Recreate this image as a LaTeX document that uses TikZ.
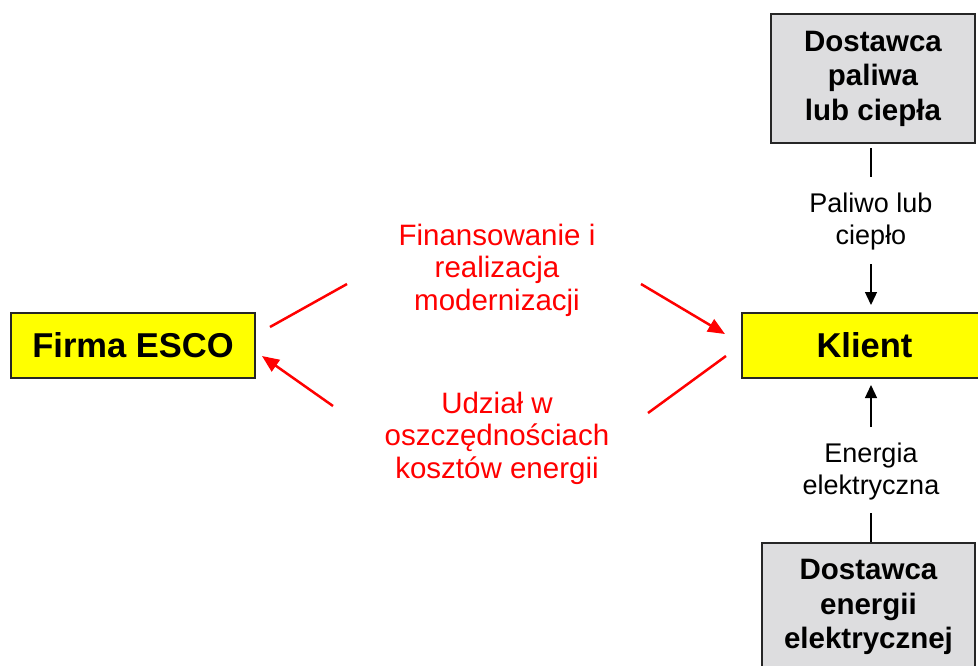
\documentclass[tikz,border=0pt]{standalone}
\usepackage{fontspec}
\setmainfont{Liberation Sans}
\usetikzlibrary{arrows.meta}
\definecolor{boxyellow}{RGB}{255,255,0}
\definecolor{boxgrey}{RGB}{221,221,223}
\tikzset{
  mainbox/.style={draw=black!85, line width=1.5pt, fill=boxyellow, minimum width=244pt, minimum height=65pt, inner sep=0pt, font=\fontsize{34.5}{40}\selectfont\bfseries},
  supbox/.style={draw=black!85, line width=1.5pt, fill=boxgrey, inner sep=0pt, align=center, font=\fontsize{29.5}{34.5}\selectfont\bfseries},
  redlabel/.style={text=red, align=center, inner sep=0pt, font=\fontsize{29.5}{32.5}\selectfont},
  blacklabel/.style={align=center, inner sep=0pt, font=\fontsize{27}{32}\selectfont},
  redline/.style={draw=red, line width=2.5pt},
  redarrow/.style={redline, -{Triangle[length=17pt,width=14pt]}},
  blackline/.style={draw=black, line width=1.3pt},
  blackarrow/.style={blackline, -{Triangle[length=13pt,width=12pt]}}
}
\begin{document}
\begin{tikzpicture}[x=1pt,y=-1pt]
\useasboundingbox (0,0) rectangle (978,665);
\clip (0,0) rectangle (978,665);
% boxes
\node[mainbox] (esco) at (133,345.5) {Firma ESCO};
\node[mainbox, minimum width=245pt] (klient) at (864.5,345.5) {Klient};
\node[supbox, minimum width=204pt, minimum height=129pt] (paliwo) at (873,78.5) {Dostawca\\paliwa\\lub ciepła};
\node[supbox, minimum width=213pt, minimum height=128pt] (energia) at (868.5,607) {Dostawca\\energii\\elektrycznej};
% labels
\node[redlabel] (fin) at (497,270) {Finansowanie i\\realizacja\\modernizacji};
\node[redlabel] (udz) at (497,438) {Udział w\\oszczędnościach\\kosztów energii};
\node[blacklabel] (lpal) at (871,222) {Paliwo lub\\ciepło};
\node[blacklabel] (lene) at (871,472) {Energia\\elektryczna};
% coordinates for connector ends
\coordinate (r1a) at (270,327);
\coordinate (r1b) at (347,284);
\coordinate (r2a) at (641,284);
\coordinate (r2b) at (725,334);
\coordinate (r3a) at (726,356);
\coordinate (r3b) at (648,413);
\coordinate (r4a) at (333,406);
\coordinate (r4b) at (262,356);
\coordinate (t1a) at (871,148);
\coordinate (t1b) at (871,177);
\coordinate (t2a) at (871,264);
\coordinate (t2b) at (871,305);
\coordinate (b1a) at (871,427);
\coordinate (b1b) at (871,385);
\coordinate (b2a) at (871,513);
\coordinate (b2b) at (871,542);
% red connectors
\draw[redline] (r1a) -- (r1b);
\draw[redarrow] (r2a) -- (r2b);
\draw[redline] (r3a) -- (r3b);
\draw[redarrow] (r4a) -- (r4b);
% black connectors
\draw[blackline] (t1a) -- (t1b);
\draw[blackarrow] (t2a) -- (t2b);
\draw[blackarrow] (b1a) -- (b1b);
\draw[blackline] (b2a) -- (b2b);
\end{tikzpicture}
\end{document}
